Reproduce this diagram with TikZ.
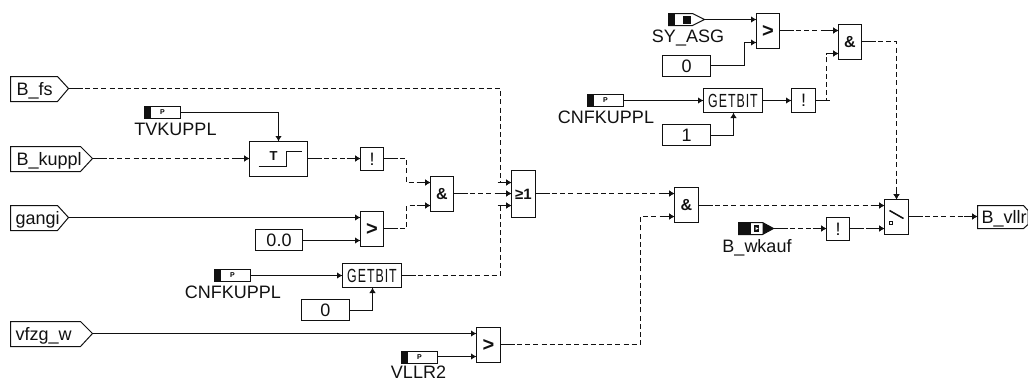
\documentclass[tikz,border=0pt]{standalone}
\usepackage{fontspec}
\setmainfont{Liberation Sans}
\newfontfamily\gbfont[LetterSpace=8]{Liberation Sans}
\usetikzlibrary{arrows.meta,calc}
\definecolor{ink}{HTML}{111111}
\tikzset{
  wire/.style={draw=ink,line width=1pt,-{Latex[length=5.5pt,width=6.5pt]}},
  plainw/.style={draw=ink,line width=1pt},
  dw/.style={wire,dash pattern=on 5pt off 3.2pt},
  blockbox/.style={draw=ink,line width=1pt,fill=white,inner sep=0pt,text=ink,font=\fontsize{16}{17}\selectfont\bfseries},
  lbl/.style={inner sep=0pt,anchor=base,font=\fontsize{18}{20}\selectfont,text=ink},
  lblw/.style={inner sep=0pt,anchor=base west,font=\fontsize{18}{20}\selectfont,text=ink},
  parbox/.style={draw=ink,line width=1pt,fill=white,inner sep=0pt,minimum width=36pt,minimum height=12pt,font=\fontsize{7}{8}\selectfont\bfseries},
  constbox/.style={draw=ink,line width=1pt,fill=white,inner sep=0pt,font=\fontsize{18}{20}\selectfont,text=ink},
}
\newcommand\gbtext{{\fontseries{m}\gbfont\fontsize{19}{20}\selectfont\scalebox{0.65}[1]{GETBIT}}}
\newcommand\gttext{{\fontsize{20}{21}\selectfont >}}
% block: name, x1, y1, x2, y2, text -- with pin coordinates snapped to the pixel grid
\newcommand\blk[6]{%
  \node[blockbox,minimum width={#4-#2},minimum height={#5-#3}] (#1) at ({(#2+#4)/2},{(#3+#5)/2}) {#6};
  \coordinate (#1-a) at (#2,#3+6);
  \coordinate (#1-b) at (#2,#5-6);
  \coordinate (#1-w) at (#2,{floor((#3+#5)/2)});
  \coordinate (#1-e) at (#4,{floor((#3+#5)/2)});
  \coordinate (#1-n) at ({ceil((#2+#4)/2)},#3);
  \coordinate (#1-s) at ({ceil((#2+#4)/2)},#5);
}
% input port: name, x1, corner, tip, ymid, text x, text
\newcommand\port[7]{%
  \draw[plainw,fill=white] (#2,#5-12) -- (#3,#5-12) -- (#4,#5) -- (#3,#5+13) -- (#2,#5+13) -- cycle;
  \node[lblw] (#1) at (#6,#5+6.5) {#7};
  \coordinate (#1-o) at (#4,#5);
}
% parameter: name, x1, ymid
\newcommand\param[3]{%
  \node[parbox] (#1) at (#2+18,#3) {P};
  \fill[ink] (#2,#3-6) rectangle (#2+6,#3+6);
}
% dashed connector with solid stubs at both ends
\newcommand\dwire[4][-14,0]{%
  \draw[dw] (#2) #3 (#4);
  \draw[plainw] (#2) -- ++(14,0);
  \draw[wire] ($(#4)+(#1)$) -- (#4);
}
\begin{document}
\begin{tikzpicture}[x=1pt,y=-1pt]
\useasboundingbox (0,0) rectangle (1028,381);
\begin{scope}[shift={(0.5,0.5)}]

% input ports
\port{fs}{10}{57}{68}{88}{16}{B\_fs}
\port{kuppl}{10}{80}{92}{158}{16}{B\_kuppl}
\port{gangi}{10}{57}{68}{217}{15}{gangi}
\port{vfzg}{10}{80}{92}{333}{15}{vfzg\_w}

% output port
\draw[plainw,fill=white] (977,205) -- (1023,205) -- (1027.5,210) -- (1027.5,224) -- (1023,228) -- (977,228) -- cycle;
\node[lblw] (vllr) at (981,223) {B\_vllr};
\coordinate (vllr-i) at (977,216);

% blocks
\blk{tb}{249}{141}{307}{176}{}
\draw[ink,line width=1.7pt] (258,166) -- (286,166) -- (286,151) -- (301,151);
\node[inner sep=0pt,font=\fontsize{13}{14}\selectfont\bfseries,text=ink] (tlet) at (273,156) {T};
\blk{not1}{360}{147}{383}{170}{\fontseries{m}\fontsize{18}{19}\selectfont !}
\blk{gt1}{360}{211}{383}{246}{\gttext}
\blk{and1}{430}{176}{453}{211}{\&}
\blk{sum}{511}{170}{535}{217}{\fontsize{15}{16}\selectfont ≥1}
\coordinate (sum-a) at (511,182);
\coordinate (sum-b) at (511,205);
\blk{gb1}{342}{263}{401}{287}{\gbtext}
\blk{gt2}{476}{327}{500}{362}{\gttext}
\blk{and2}{674}{187}{698}{222}{\&}
\blk{not2}{826}{217}{849}{240}{\fontseries{m}\fontsize{18}{19}\selectfont !}
\blk{sw}{884}{199}{908}{234}{}
\draw[ink,line width=1.5pt] (889,210) -- (903,218);
\draw[ink,line width=0.9pt] (888.5,221) rectangle (891.5,224);
\blk{gt3}{756}{13}{779}{48}{\gttext}
\blk{and3}{838}{24}{861}{59}{\&}
\blk{gb2}{703}{88}{762}{112}{\gbtext}
\blk{not3}{791}{88}{815}{112}{\fontseries{m}\fontsize{18}{19}\selectfont !}

% constants
\node[constbox,minimum width=47pt,minimum height=21pt] (c00) at (278.5,239.5) {0.0};
\node[constbox,minimum width=48pt,minimum height=21pt] (c0a) at (325,309.5) {0};
\node[constbox,minimum width=48pt,minimum height=21pt] (c0b) at (686,65.5) {0};
\node[constbox,minimum width=48pt,minimum height=21pt] (c1) at (686,134.5) {1};

% parameters
\param{ptv}{144}{112}
\node[lbl] (ltv) at (175,135) {TVKUPPL};
\param{pcn1}{214}{275}
\node[lbl] (lcn1) at (232.5,298) {CNFKUPPL};
\param{pcn2}{587}{100}
\node[lbl] (lcn2) at (605.5,123) {CNFKUPPL};
\param{pvl}{401}{357}
\node[lbl] (lvl) at (418,378) {VLLR2};

% SY_ASG message input
\draw[plainw,fill=white] (668,13) -- (692,13) -- (704,19) -- (692,25) -- (668,25) -- cycle;
\fill[ink] (668,13) rectangle (674,25);
\fill[ink] (682,15) rectangle (690,23);
\coordinate (sy) at (704,19);
\node[lbl] (lsy) at (687.5,42) {SY\_ASG};

% B_wkauf message input
\draw[plainw,fill=white] (738,222) -- (762,222) -- (773,228) -- (762,234) -- (738,234) -- cycle;
\fill[ink] (738,222) rectangle (750,234);
\fill[ink] (762,222) -- (773,228) -- (762,234) -- cycle;
\fill[ink] (753,224.5) rectangle (758,231.5);
\fill[white] (755,226.5) -- (758,228) -- (755,229.5) -- cycle;
\coordinate (wk) at (773,228);
\node[lbl] (lwk) at (756.5,252) {B\_wkauf};

% dashed connectors
\dwire{fs-o}{-- (500,88) -- (500,182) --}{sum-a}
\dwire{kuppl-o}{--}{tb-w}
\dwire{tb-e}{--}{not1-w}
\dwire{not1-e}{-- (406,158) -- (406,182) --}{and1-a}
\dwire{gt1-e}{-- (406,228) -- (406,205) --}{and1-b}
\dwire{and1-e}{--}{sum-w}
\dwire{gb1-e}{-- (500,275) -- (500,205) --}{sum-b}
\dwire{sum-e}{--}{and2-a}
\dwire{gt2-e}{-- (640,344) -- (640,216) --}{and2-b}
\dwire{and2-e |- sw-a}{--}{sw-a}
\dwire{gt3-e}{--}{and3-a}
\dwire[-8,0]{not3-e}{-- (826,100) -- (826,53) --}{and3-b}
\dwire[0,-10]{and3-e}{-- (896,41) --}{sw-n}
\dwire{wk}{--}{not2-w}
\dwire{not2-e}{--}{sw-b}
\dwire{sw-e}{--}{vllr-i}

% solid connectors
\draw[wire] (ptv.east) -- (278,112) -- (tb-n);
\draw[wire] (gangi-o) -- (gt1-a);
\draw[wire] (c00.east |- gt1-b) -- (gt1-b);
\draw[wire] (pcn1.east) -- (gb1-w);
\draw[wire] ([yshift=-0.5pt]c0a.east) -- (372,310) -- (gb1-s);
\draw[wire] (vfzg-o) -- (gt2-a);
\draw[wire] (pvl.east |- gt2-b) -- (gt2-b);
\draw[wire] (sy) -- (gt3-a);
\draw[wire] ([yshift=0.5pt]c0b.east) -- (744,65) -- (744,42) -- (gt3-b);
\draw[wire] (pcn2.east) -- (gb2-w);
\draw[wire] ([yshift=-0.5pt]c1.east) -- (733,135) -- (gb2-s);
\draw[wire] (gb2-e) -- (not3-w);
\end{scope}
\end{tikzpicture}
\end{document}
